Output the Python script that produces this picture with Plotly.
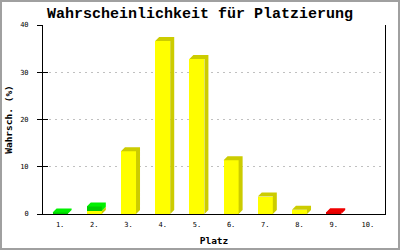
import plotly.graph_objects as go

places = list(range(1, 11))
tick_labels = ["1.", "2.", "3.", "4.", "5.", "6.", "7.", "8.", "9.", "10."]
yellow_vals = [0, 0.7, 13.3, 36.6, 32.8, 11.4, 3.7, 0.9, 0, 0]
green_vals = [0.3, 0.9, 0, 0, 0, 0, 0, 0, 0, 0]
red_vals = [0, 0, 0, 0, 0, 0, 0, 0, 0.35, 0]

series = [
    (yellow_vals, "#ffff00", "#cccc00"),
    (green_vals, "#00cc00", "#00f000"),
    (red_vals, "#dd0000", "#f00000"),
]

W, H = 400, 250
L, R, T, B = 43, 15, 25, 36
pw, ph = W - L - R, H - T - B
ymax = 40
DX = 4 / (pw / 10)      # depth in category units
DY = 4 / (ph / ymax)    # depth in value units
BW = 0.44

# index of topmost non-zero segment per place
top_idx = []
for i in range(10):
    k = -1
    for s, (vals, _, _) in enumerate(series):
        if vals[i] > 0:
            k = s
    top_idx.append(k)

fig = go.Figure()
cum = [0.0] * 10
for s, (vals, front, side) in enumerate(series):
    base = list(cum)
    fig.add_trace(go.Bar(x=places, y=vals, base=base, width=BW, offset=-BW / 2,
                         marker=dict(color=front, line=dict(width=0))))
    px, py = [], []
    for i, v in enumerate(vals):
        if v <= 0:
            continue
        b, t = base[i], base[i] + v
        xl, xr = places[i] - BW / 2, places[i] + BW / 2
        if top_idx[i] == s:
            xs = [xr, xr + DX, xr + DX, xl + DX, xl, xr, xr]
            ys = [b, b + DY, t + DY, t + DY, t, t, b]
        else:
            xs = [xr, xr + DX, xr + DX, xr, xr]
            ys = [b, b + DY, t + DY, t, b]
        px += xs + [None]
        py += ys + [None]
    if px:
        fig.add_trace(go.Scatter(x=px, y=py, mode="lines", fill="toself",
                                 fillcolor=side, line=dict(width=0, color=side),
                                 hoverinfo="skip"))
    cum = [c + v for c, v in zip(cum, vals)]

# invisible trace for inside-tick overlay axis
fig.add_trace(go.Scatter(x=[1], y=[0], yaxis="y2", mode="markers",
                         marker=dict(opacity=0), hoverinfo="skip"))

mono = "DejaVu Sans Mono"
fig.update_layout(
    width=W, height=H,
    margin=dict(l=L, r=R, t=T, b=B, autoexpand=False),
    barmode="overlay", bargap=0,
    showlegend=False,
    paper_bgcolor="white", plot_bgcolor="white",
    title=dict(text="<b>Wahrscheinlichkeit für Platzierung</b>",
               font=dict(family="Liberation Mono", size=15, color="black"),
               x=0.5, xanchor="center", xref="container",
               y=1 - 13 / H, yanchor="middle", yref="container"),
    xaxis=dict(range=[0.5, 10.5], tickvals=places, ticktext=tick_labels,
               automargin=False,
               showgrid=False, zeroline=False, showline=True, linecolor="black",
               linewidth=1, ticks="", ticklabelstandoff=4,
               tickfont=dict(family=mono, size=7, color="black"),
               title=dict(text="<b>Platz</b>", font=dict(family=mono, size=9.5, color="black"),
                          standoff=8)),
    yaxis=dict(range=[0, ymax], tickvals=[0, 10, 20, 30, 40],
               automargin=False,
               showgrid=True, gridcolor="#c0c0c0", griddash="2px,4px", gridwidth=1,
               zeroline=False, showline=True, linecolor="black", linewidth=1,
               mirror=True, ticks="outside", ticklen=5, tickcolor="black",
               ticklabelstandoff=7,
               tickfont=dict(family=mono, size=7, color="black"),
               title=dict(text="<b>Wahrsch. (%)</b>",
                          font=dict(family=mono, size=9.5, color="black"), standoff=5)),
    yaxis2=dict(range=[0, ymax], overlaying="y", side="left", tickvals=[0, 10, 20, 30, 40],
                automargin=False,
                ticks="inside", ticklen=5, tickcolor="black", showticklabels=False,
                showgrid=False, zeroline=False, showline=False),
    shapes=[dict(type="rect", xref="paper", yref="paper",
                 x0=(-L + 1) / pw, x1=1 + (R - 1) / pw,
                 y0=(-B + 1) / ph, y1=1 + (T - 1) / ph,
                 line=dict(color="#a0a0a0", width=2), layer="above")],
)

fig.write_html("out.html")
